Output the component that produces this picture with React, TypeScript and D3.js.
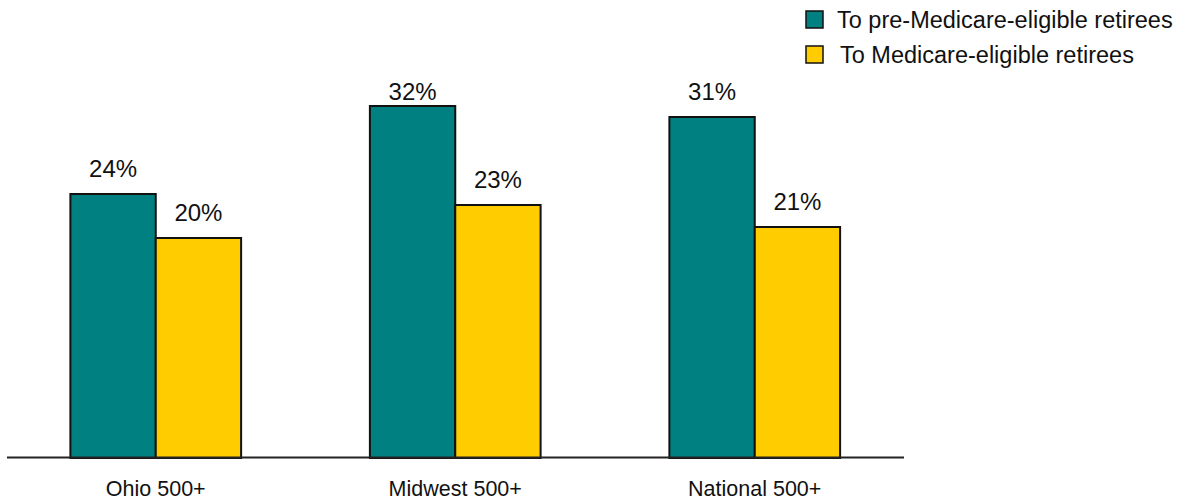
import React from "react";
import * as d3 from "d3";

const categories = ["Ohio 500+", "Midwest 500+", "National 500+"];
const seriesNames = ["To pre-Medicare-eligible retirees", "To Medicare-eligible retirees"];
const preMedicare = [24, 32, 31];
const medicareEligible = [20, 23, 21];
const seriesValues = [preMedicare, medicareEligible];
const seriesColors = ["#008080", "#FFCC00"];

const W = 1186;
const H = 501;
const font = "'Liberation Sans', Arial, Helvetica, sans-serif";

export default function App() {
  const plotLeft = 7;
  const plotRight = 904;
  const baseY = 458;

  const x0 = d3.scaleBand<string>().domain(categories).range([6, 904.5]).paddingInner(0.43).paddingOuter(0.215);
  const x1 = d3.scaleBand<number>().domain([0, 1]).range([0, x0.bandwidth()]);
  const y = d3.scaleLinear().domain([0, 40]).range([baseY, baseY - 440]);

  return (
    <svg width={W} height={H} style={{ position: "absolute", left: 0, top: 0 }}>
      <rect width={W} height={H} fill="#fff" />
      {categories.map((c, ci) =>
        seriesValues.map((vals, si) => {
          const v = vals[ci];
          const bx = (x0(c) as number) + (x1(si) as number);
          const top = y(v);
          const cx = bx + x1.bandwidth() / 2;
          const ly = Math.max(top - 17, 99.5);
          return (
            <g key={`${ci}-${si}`}>
              <rect x={bx} y={top} width={x1.bandwidth()} height={baseY - top} fill={seriesColors[si]} stroke="#111" strokeWidth={2} />
              <text x={cx} y={ly} textAnchor="middle" fontFamily={font} fontSize={24} fill="#111">
                {v}%
              </text>
            </g>
          );
        })
      )}
      <line x1={plotLeft} x2={plotRight} y1={baseY - 0.5} y2={baseY - 0.5} stroke="#222" strokeWidth={2} />
      {categories.map((c) => (
        <text key={c} x={(x0(c) as number) + x0.bandwidth() / 2} y={496} textAnchor="middle" fontFamily={font} fontSize={21.5} fill="#111">
          {c}
        </text>
      ))}
      {seriesNames.map((n, i) => (
        <g key={n} transform={`translate(806, ${11 + i * 35})`}>
          <rect x={0} y={0} width={17} height={17} fill={seriesColors[i]} stroke="#111" strokeWidth={1.5} />
          <text x={i === 0 ? 31 : 34} y={17} fontFamily={font} fontSize={23.5} fill="#111">
            {n}
          </text>
        </g>
      ))}
    </svg>
  );
}
